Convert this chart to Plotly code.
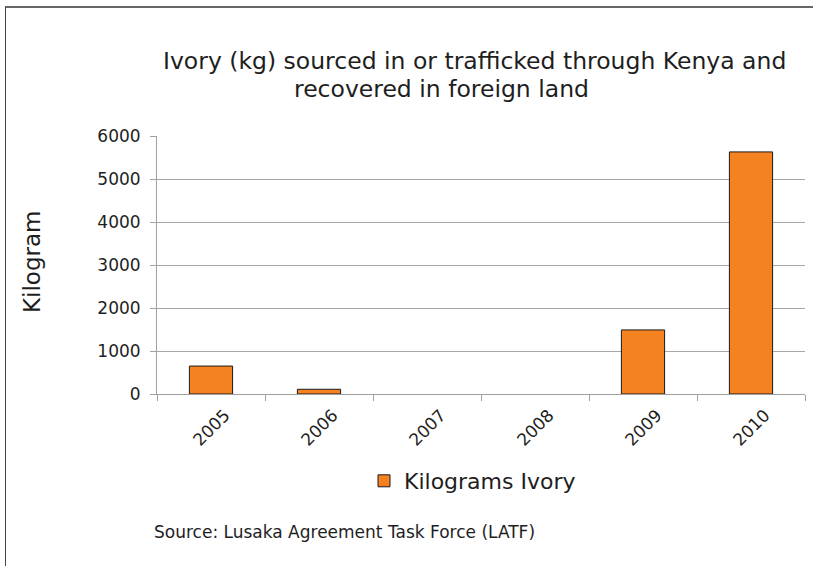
import plotly.graph_objects as go

years = ["2005", "2006", "2007", "2008", "2009", "2010"]
kilograms = [650, 110, 0, 0, 1490, 5630]
series_name = "Kilograms Ivory"
y_ticks = [0, 1000, 2000, 3000, 4000, 5000, 6000]

FONT = "DejaVu Sans"
TXT = "#1e1e1e"
W, H = 813, 566
L, R, T, B = 157, 805, 136, 394
pw, ph = R - L, B - T

def px(x):
    return (x - L) / pw

def py(y):
    return (B - y) / ph

fig = go.Figure()
fig.add_trace(go.Bar(
    x=years, y=kilograms, name=series_name,
    marker=dict(color="#F58220",
                line=dict(color="#1a1a1a", width=[1 if v > 0 else 0 for v in kilograms])),
    showlegend=True,
))

fig.update_layout(
    width=W, height=H,
    margin=dict(l=L, r=W - R, t=T, b=H - B),
    paper_bgcolor="white", plot_bgcolor="white",
    bargap=0.6,
    font=dict(family=FONT, color=TXT),
    showlegend=True,
    legend=dict(orientation="h", x=px(364), y=py(481), xanchor="left", yanchor="middle",
                font=dict(size=22, family=FONT, color=TXT), bgcolor="rgba(0,0,0,0)"),
    xaxis=dict(
        type="category", categoryorder="array", categoryarray=years,
        showticklabels=False,
        showline=True, linecolor="#a0a0a0", linewidth=1,
        ticks="outside", ticklen=6, tickcolor="#a0a0a0", tickson="boundaries",
        showgrid=False,
    ),
    yaxis=dict(
        range=[0, 6000], tickvals=y_ticks, tickfont=dict(size=17, color=TXT),
        showline=True, linecolor="#a0a0a0", linewidth=1,
        ticks="outside", ticklen=6, tickcolor="#a0a0a0", ticklabelstandoff=6,
        showgrid=True, gridcolor="#a8a8a8", gridwidth=1, zeroline=False,
    ),
)

for i, yr in enumerate(years):
    fig.add_annotation(text=yr, xref="x", yref="paper", x=i, y=py(403),
                       textangle=-45, showarrow=False,
                       font=dict(size=17, family=FONT, color=TXT),
                       xanchor="center", yanchor="top")

fig.add_annotation(text="Kilogram", xref="paper", yref="paper", x=px(32), y=py(262),
                   textangle=-90, showarrow=False, font=dict(size=23, family=FONT, color=TXT),
                   xanchor="center", yanchor="middle")
fig.add_annotation(text="Ivory (kg) sourced in or trafficked through Kenya and",
                   xref="paper", yref="paper", x=px(474), y=py(61),
                   showarrow=False, font=dict(size=23.5, family=FONT, color=TXT),
                   xanchor="center", yanchor="middle")
fig.add_annotation(text="recovered in foreign land",
                   xref="paper", yref="paper", x=px(441), y=py(89),
                   showarrow=False, font=dict(size=23.5, family=FONT, color=TXT),
                   xanchor="center", yanchor="middle")
fig.add_annotation(text="Source: Lusaka Agreement Task Force (LATF)",
                   xref="paper", yref="paper", x=px(152), y=py(532),
                   showarrow=False, font=dict(size=17, family=FONT, color=TXT),
                   xanchor="left", yanchor="middle")

# outer frame (top and left edges)
fig.add_shape(type="line", xref="paper", yref="paper", x0=px(5), x1=px(830), y0=py(7), y1=py(7),
              line=dict(color="#666", width=2))
fig.add_shape(type="line", xref="paper", yref="paper", x0=px(5.5), x1=px(5.5), y0=py(7), y1=py(600),
              line=dict(color="#444", width=1))

fig.write_html("out.html", config={"displayModeBar": False},
               post_script="document.body.style.margin='0';document.body.style.overflow='hidden';")
